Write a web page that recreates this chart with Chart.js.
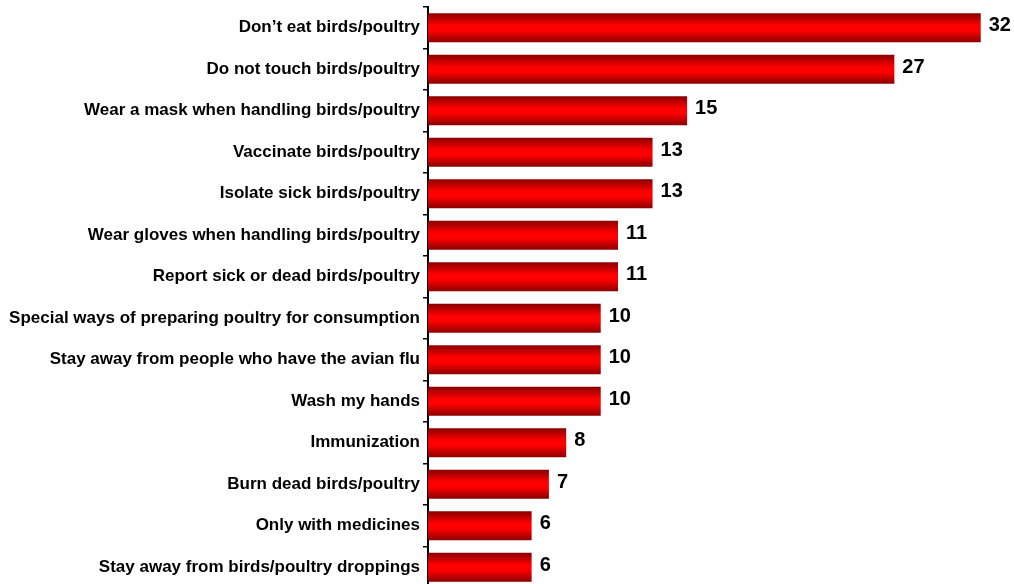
<!DOCTYPE html>
<html>
<head>
<meta charset="utf-8">
<script src="https://cdn.jsdelivr.net/npm/chart.js@4.4.1/dist/chart.umd.min.js"></script>
<style>
  html, body { margin: 0; padding: 0; background: #fff; overflow: hidden; }
  #wrap { position: relative; width: 1014px; height: 588px; }
</style>
</head>
<body>
<div id="wrap"><canvas id="chart"></canvas></div>
<script>
const categories = [
    'Don\u2019t eat birds/poultry',
    'Do not touch birds/poultry',
    'Wear a mask when handling birds/poultry',
    'Vaccinate birds/poultry',
    'Isolate sick birds/poultry',
    'Wear gloves when handling birds/poultry',
    'Report sick or dead birds/poultry',
    'Special ways of preparing poultry for consumption',
    'Stay away from people who have the avian flu',
    'Wash my hands',
    'Immunization',
    'Burn dead birds/poultry',
    'Only with medicines',
    'Stay away from birds/poultry droppings'
];
const values = [32, 27, 15, 13, 13, 11, 11, 10, 10, 10, 8, 7, 6, 6];

const BAR_PCT = 0.7;

// vertical shading for each bar, dark edges and bright red middle
function barGradient(ctx) {
    const chart = ctx.chart;
    const y = chart.scales.y;
    if (!y || ctx.dataIndex === undefined) return '#e00000';
    const center = y.getPixelForValue(ctx.dataIndex);
    const pitch = Math.abs(y.getPixelForValue(1) - y.getPixelForValue(0));
    if (!isFinite(center) || !isFinite(pitch) || pitch === 0) return '#e00000';
    const half = pitch * BAR_PCT / 2;
    const g = chart.ctx.createLinearGradient(0, center - half, 0, center + half);
    g.addColorStop(0, '#880000');
    g.addColorStop(0.42, '#ff0000');
    g.addColorStop(0.6, '#ff0000');
    g.addColorStop(1, '#8a0000');
    return g;
}

const valueLabels = {
    id: 'valueLabels',
    afterDatasetsDraw(chart) {
        const ctx = chart.ctx;
        const meta = chart.getDatasetMeta(0);
        ctx.save();
        ctx.font = 'bold 20px "Liberation Sans", Arial, sans-serif';
        ctx.fillStyle = '#000';
        ctx.textAlign = 'left';
        ctx.textBaseline = 'middle';
        meta.data.forEach((bar, i) => {
            ctx.fillText(values[i], bar.x + 8, bar.y - 2);
        });
        ctx.restore();
    }
};

new Chart(document.getElementById('chart'), {
    type: 'bar',
    data: {
        labels: categories,
        datasets: [{
            data: values,
            backgroundColor: barGradient,
            borderWidth: 0,
            barPercentage: BAR_PCT,
            categoryPercentage: 1
        }]
    },
    options: {
        indexAxis: 'y',
        responsive: true,
        maintainAspectRatio: false,
        animation: false,
        layout: { padding: { top: 7, right: 16, bottom: 0, left: 0 } },
        scales: {
            x: {
                display: false,
                min: 0,
                max: 33
            },
            y: {
                afterFit: scale => {
                    scale.width = 428;
                    scale.paddingTop = 0;
                    scale.paddingBottom = 0;
                },
                border: { display: true, color: '#000', width: 2 },
                grid: {
                    offset: true,
                    drawOnChartArea: false,
                    drawTicks: true,
                    tickLength: 5,
                    color: '#000',
                    lineWidth: 1.5
                },
                ticks: {
                    color: '#000',
                    padding: 3,
                    font: { family: '"Liberation Sans", Arial, sans-serif', size: 17, weight: 'bold' }
                }
            }
        },
        plugins: {
            legend: { display: false },
            tooltip: { enabled: false }
        }
    },
    plugins: [valueLabels]
});
</script>
</body>
</html>
